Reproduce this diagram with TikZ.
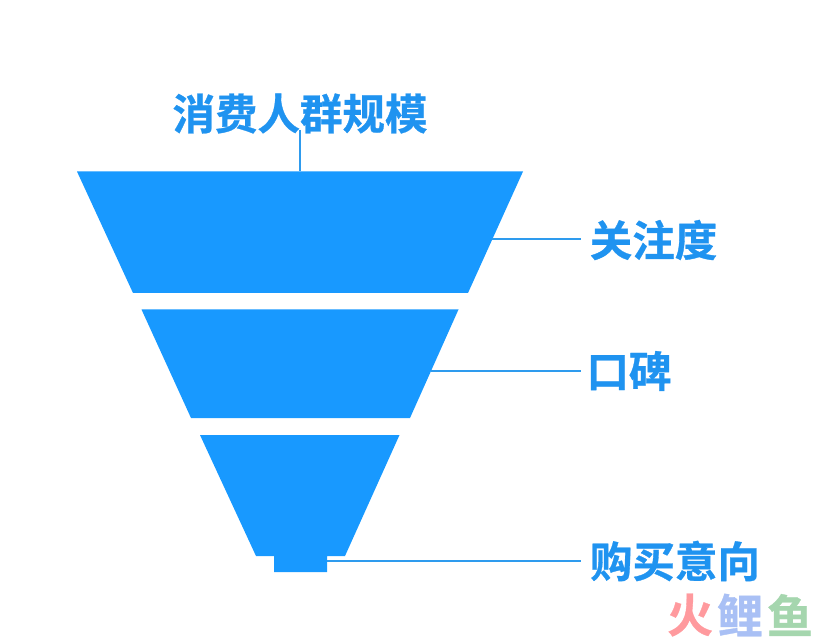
\documentclass[tikz,border=0pt]{standalone}
\usepackage{fontspec}
\newfontfamily\cjk[FakeBold=0.7]{Noto Sans CJK SC Bold}
\definecolor{funnel}{HTML}{1899FF}
\definecolor{leader}{HTML}{2E9BEE}
\definecolor{labelblue}{HTML}{1F93F0}
\definecolor{wmred}{HTML}{FF9A9E}
\definecolor{wmblue}{HTML}{A9C0F5}
\definecolor{wmgreen}{HTML}{A5D6AE}
\tikzset{
  x=1pt,y=-1pt,
  tier/.style={fill=funnel,draw=none},
  leaderline/.style={draw=leader,line width=1.3pt},
  biglabel/.style={font=\cjk\fontsize{42.5}{50}\selectfont,text=labelblue,inner sep=0pt,anchor=center},
  wm/.style={font=\cjk\fontsize{46}{50}\selectfont,inner sep=0pt,anchor=center},
}
\begin{document}
\begin{tikzpicture}
\useasboundingbox (0,0) rectangle (836,639);
\fill[white] (0,0) rectangle (836,639);
% funnel
\fill[tier] (77,171.5) -- (523,171.5) -- (468,293) -- (133,293) -- cycle;
\fill[tier] (141.5,309.5) -- (458.5,309.5) -- (410,418) -- (191,418) -- cycle;
\fill[tier] (200,435) -- (399.5,435) -- (345,556) -- (327,556) -- (327,572) -- (274,572) -- (274,556) -- (256,556) -- cycle;
% labels
\node[biglabel] (top) at (300,113.5) {消费人群规模};
\node[biglabel] (attn) at (653.5,240) {关注度};
\node[biglabel] (wom) at (629,371) {口碑};
\node[biglabel] (intent) at (675,561) {购买意向};
% connector ends
\coordinate (topend) at (300,171);
\coordinate (attnend) at (492,239);
\coordinate (womend) at (431,371);
\coordinate (intentend) at (327,561);
\coordinate (attnlab) at (581,239);
\coordinate (womlab) at (581,371);
\coordinate (intentlab) at (581,561);
\coordinate (toplab) at (300,130);
\draw[leaderline] (toplab) -- (topend);
\draw[leaderline] (attnend) -- (attnlab);
\draw[leaderline] (womend) -- (womlab);
\draw[leaderline] (intentend) -- (intentlab);
% watermark
\node[wm,text=wmred] (w1) at (690,615) {火};
\node[wm,text=wmblue] (w2) at (740,615) {鲤};
\node[wm,text=wmgreen] (w3) at (790,615) {鱼};
\end{tikzpicture}
\end{document}
